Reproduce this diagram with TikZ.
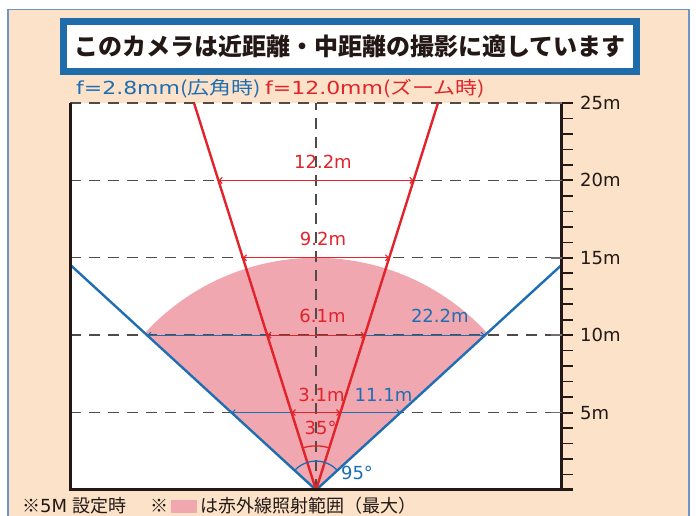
\documentclass[tikz,border=0pt]{standalone}
\usepackage{fontspec}
\setmainfont{DejaVu Sans}
\newfontfamily\jp{Noto Sans CJK JP}
\usetikzlibrary{arrows.meta,calc}

\definecolor{peach}{RGB}{251,226,200}
\definecolor{frameblue}{RGB}{112,146,198}
\definecolor{titleblue}{RGB}{31,108,170}
\definecolor{wideblue}{RGB}{31,110,180}
\definecolor{zoomred}{RGB}{226,35,42}
\definecolor{irpink}{RGB}{240,167,176}
\definecolor{ink}{RGB}{35,24,21}
\definecolor{guidegray}{RGB}{80,75,72}

\tikzset{
  lbl/.style={font=\fontsize{18}{20}\selectfont, inner sep=0pt},
  dimline/.style={line width=1.1pt, {Straight Barb[length=3pt,width=6pt]}-{Straight Barb[length=3pt,width=6pt]}},
  guide/.style={guidegray, line width=1.4pt, dash pattern=on 11pt off 8pt},
  ray/.style={line width=2.4pt, line join=round},
}

\begin{document}
\begin{tikzpicture}[x=1pt,y=1pt]
    \useasboundingbox (0,0) rectangle (696,516);
    % Background
    \fill[white] (0,0) rectangle (696,516);
    \draw[frameblue, fill=peach, line width=1.5pt] (8,-10) rectangle (689,506.5);

    % Title
    \draw[titleblue, fill=white, line width=7pt] (63.5,444.5) rectangle (636.5,494.5);
    \node[font=\jp\bfseries\fontsize{24}{26}\selectfont, text=ink] (title) at (350,470) {このカメラは近距離・中距離の撮影に適しています};

    % Lens labels
    \node[lbl, wideblue, anchor=west] (fwide) at (76,427) {\scalebox{1.22}[1]{f=2.8mm{\jp(広角時)}}};
    \node[lbl, zoomred, anchor=west] (fzoom) at (265,427) {\scalebox{1.22}[1]{f=12.0mm{\jp(ズーム時)}}};

    % Chart (1 unit = 1 m)
    \begin{scope}[shift={(316,26)}, x=15.48pt, y=15.48pt]
        \def\W{15.89}
        \fill[white] (-\W,0) rectangle (\W,25);
        % IR range
        \fill[irpink] (0,0) -- (42.5:15) arc[start angle=42.5, end angle=137.5, radius=15] -- cycle;

        % Guides
        \foreach \d in {5,10,...,25}
            \draw[guide] (-\W,\d) -- (\W,\d);
        \draw[guide] (0,0) -- (0,25);

        % Widths
        \draw[dimline, wideblue] (-10.91,10) -- (10.91,10);
        \draw[dimline, wideblue] (-5.457,5) -- (5.457,5);
        \draw[dimline, zoomred] (-6.306,20) -- (6.306,20);
        \draw[dimline, zoomred] (-4.730,15) -- (4.730,15);
        \draw[dimline, zoomred] (-3.153,10) -- (3.153,10);
        \draw[dimline, zoomred] (-1.576,5) -- (1.576,5);

        % Angle of view
        \coordinate (apex) at (0,0);
        \coordinate (wl) at (-\W,14.56);
        \coordinate (wr) at (\W,14.56);
        \coordinate (zl) at (-7.88,25);
        \coordinate (zr) at (7.88,25);
        \draw[ray, wideblue] (wl) -- (apex) -- (wr);
        \draw[ray, zoomred] (zl) -- (apex) -- (zr);
        \draw[zoomred, line width=1.3pt] (72.5:2.85) arc[start angle=72.5, end angle=107.5, radius=2.85];
        \draw[wideblue, line width=1.3pt] (42.5:1.87) arc[start angle=42.5, end angle=137.5, radius=1.87];

        % Frame and scale
        \draw[ink, line width=3pt] (-\W,25) -- (-\W,0) -- (\W+0.7,0);
        \draw[ink, line width=3pt] (\W,0) -- (\W,25);
        \foreach \d in {1,...,24}
            \draw[ink, line width=1.6pt] (\W,\d) -- (\W+0.7,\d);
        \foreach \d in {5,10,...,25} {
            \draw[guidegray!80, line width=1.6pt] (\W-0.7,\d) -- (\W,\d);
            \draw[ink, line width=2pt] (\W,\d) -- (\W+0.7,\d);
            \node[lbl, text=ink, anchor=west] (m\d) at (\W+1.16,\d) {\d m};
        }

        % Labels
        \node[lbl, zoomred] (d20) at (0.45,21.22) {12.2m};
        \node[lbl, zoomred] (d15) at (0.45,16.2) {9.2m};
        \node[lbl, zoomred] (d10) at (0.42,11.24) {6.1m};
        \node[lbl, wideblue] (w10) at (8.0,11.24) {22.2m};
        \node[lbl, zoomred] (d5) at (0.36,6.14) {3.1m};
        \node[lbl, wideblue] (w5) at (4.36,6.14) {11.1m};
        \node[lbl, zoomred] (azoom) at (0.3,4.0) {35°};
        \node[lbl, wideblue] (awide) at (2.65,1.1) {95°};
    \end{scope}

    % Notes
    \node[lbl, text=ink, anchor=west] (note) at (22,10.5) {{\jp ※}5M {\jp 設定時}};
    \node[lbl, text=ink, anchor=west] (mark) at (150,10.5) {\jp ※};
    \node[fill=irpink, minimum width=26pt, minimum height=13pt, inner sep=0pt] (swatch) at (184,9.8) {};
    \node[lbl, text=ink, anchor=west] (legend) at (200,10.5) {\jp は赤外線照射範囲（最大）};
\end{tikzpicture}
\end{document}
